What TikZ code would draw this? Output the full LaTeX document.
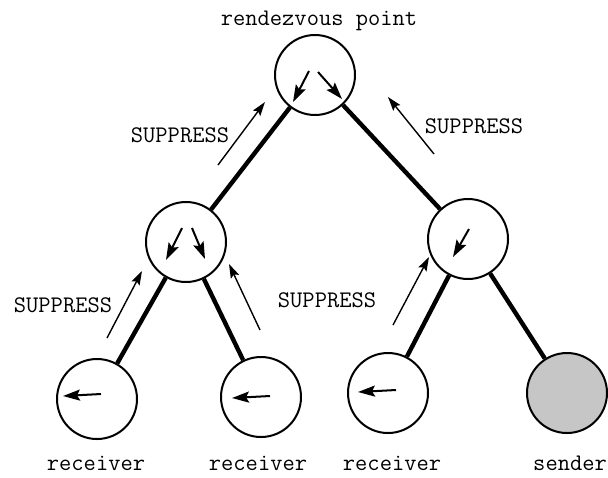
\documentclass[tikz,border=0pt]{standalone}
\usetikzlibrary{arrows.meta}

\tikzset{
  router/.style={circle, draw, line width=1pt, minimum size=40pt, inner sep=0pt},
  srchost/.style={router, fill=gray!45},
  link/.style={line width=2.2pt},
  flow/.style={-{Stealth[length=8.5pt,width=5.5pt,inset=1.5pt]}, line width=1pt},
  prune/.style={-{Stealth[length=7pt,width=4.5pt,inset=1.2pt]}, line width=0.7pt},
  lbl/.style={anchor=base, inner sep=0pt, font=\ttfamily\fontsize{11.9}{14}\selectfont},
}

\begin{document}
\begin{tikzpicture}[x=0.5pt, y=-0.5pt]
    \useasboundingbox (0,0) rectangle (608,477);
    % tree nodes
    \node[router] (rp) at (315,75) {};
    \node[router] (lm) at (186,242) {};
    \node[router] (rm) at (468,239) {};
    \node[router] (rcvA) at (97,399) {};
    \node[router] (rcvB) at (261,397) {};
    \node[router] (rcvC) at (388,393) {};
    \node[srchost] (snd) at (567,393) {};
    % shared tree links
    \draw[link] (rp) -- (lm);
    \draw[link] (rp) -- (rm);
    \draw[link] (lm) -- (rcvA);
    \draw[link] (lm) -- (rcvB);
    \draw[link] (rm) -- (rcvC);
    \draw[link] (rm) -- (snd);
    % data forwarded inside each node
    \draw[flow] (309,71) -- (293,102);
    \draw[flow] (318,72) -- (342,99);
    \draw[flow] (182,228) -- (166,260);
    \draw[flow] (192,228) -- (205,259);
    \draw[flow] (469,229) -- (453,257);
    \draw[flow] (101,394) -- (63,396);
    \draw[flow] (270,396) -- (232,398);
    \draw[flow] (396,390) -- (358,392);
    % suppress messages sent upstream
    \draw[prune] (218,165) -- (265,102);
    \draw[prune] (434,154) -- (388,97);
    \draw[prune] (107,338) -- (142,271);
    \draw[prune] (260,330) -- (229,264);
    \draw[prune] (393,325) -- (429,257);
    % labels
    \node[lbl] (rpl) at (319,25) {rendezvous point};
    \node[lbl] (supA) at (180,142) {SUPPRESS};
    \node[lbl] (supB) at (474,133) {SUPPRESS};
    \node[lbl] (supC) at (63,312) {SUPPRESS};
    \node[lbl] (supD) at (327,307) {SUPPRESS};
    \node[lbl] (rcvAl) at (96,470) {receiver};
    \node[lbl] (rcvBl) at (258,470) {receiver};
    \node[lbl] (rcvCl) at (392,470) {receiver};
    \node[lbl] (sndl) at (570,470) {sender};
\end{tikzpicture}
\end{document}
